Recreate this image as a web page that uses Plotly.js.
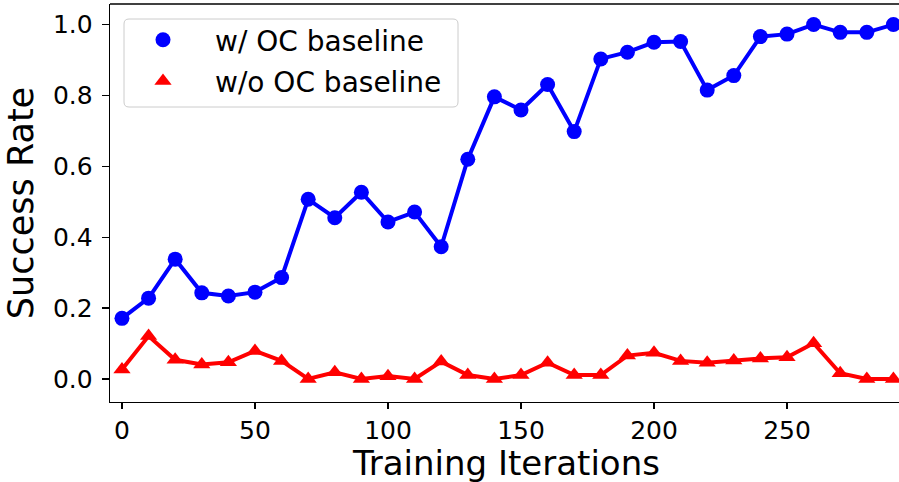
<!DOCTYPE html>
<html>
<head>
<meta charset="utf-8">
<script src="https://cdn.plot.ly/plotly-3.0.1.min.js"></script>
<style>html,body{margin:0;padding:0;background:#fff;}#chart{width:899px;height:482px;}</style>
</head>
<body>
<div id="chart"></div>
<script>
var iterations = [0,10,20,30,40,50,60,70,80,90,100,110,120,130,140,150,160,170,180,190,200,210,220,230,240,250,260,270,280,290];
var withOC = [0.171,0.228,0.338,0.243,0.234,0.245,0.286,0.507,0.455,0.527,0.443,0.471,0.373,0.620,0.796,0.759,0.831,0.698,0.903,0.922,0.950,0.952,0.815,0.856,0.966,0.973,1.0,0.978,0.978,1.0];
var withoutOC = [0.027,0.121,0.054,0.041,0.047,0.079,0.051,0.0,0.019,0.0,0.008,0.0,0.049,0.011,0.0,0.011,0.046,0.011,0.011,0.066,0.074,0.051,0.046,0.052,0.058,0.061,0.101,0.016,0.0,0.0];
var seriesNames = ["w/ OC baseline", "w/o OC baseline"];
var xTickVals = [0,50,100,150,200,250];
var yTickVals = [0,0.2,0.4,0.6,0.8,1.0];
var yTickText = ["0.0","0.2","0.4","0.6","0.8","1.0"];
var xTitle = "Training Iterations";
var yTitle = "Success Rate";

var FONT = "DejaVu Sans, sans-serif";
var W = 899, H = 482;
var mL = 110, mR = 0, mT = 4, mB = 80;
var pw = W - mL - mR, ph = H - mT - mB;
function px2x(p){ return (p - mL) / pw; }
function px2y(p){ return (H - mB - p) / ph; }

var bx0 = px2x(124), bx1 = px2x(458), by0 = px2y(107), by1 = px2y(19);
var rx = 5 / pw, ry = 5 / ph;
var legendPath = "M " + (bx0+rx) + "," + by1 +
  " L " + (bx1-rx) + "," + by1 + " Q " + bx1 + "," + by1 + " " + bx1 + "," + (by1-ry) +
  " L " + bx1 + "," + (by0+ry) + " Q " + bx1 + "," + by0 + " " + (bx1-rx) + "," + by0 +
  " L " + (bx0+rx) + "," + by0 + " Q " + bx0 + "," + by0 + " " + bx0 + "," + (by0+ry) +
  " L " + bx0 + "," + (by1-ry) + " Q " + bx0 + "," + by1 + " " + (bx0+rx) + "," + by1 + " Z";

var traces = [
  {x: iterations, y: withOC, mode: "lines+markers", showlegend: false,
   line: {color: "#0000ff", width: 4}, marker: {color: "#0000ff", size: 15, symbol: "circle"}},
  {x: iterations, y: withoutOC, mode: "lines+markers", showlegend: false,
   line: {color: "#ff0000", width: 4}, marker: {color: "#ff0000", size: 15, symbol: "triangle-up"}},
  {x: [null], y: [null], mode: "markers", name: seriesNames[0], legendgroup: "a",
   marker: {color: "#0000ff", size: 15, symbol: "circle"}},
  {x: [null], y: [null], mode: "markers", name: seriesNames[1], legendgroup: "b",
   marker: {color: "#ff0000", size: 15, symbol: "triangle-up"}}
];

var layout = {
  width: W, height: H,
  margin: {l: mL, r: mR, t: mT, b: mB, pad: 0},
  paper_bgcolor: "#ffffff", plot_bgcolor: "#ffffff",
  font: {family: FONT, color: "#000000", size: 25},
  xaxis: {
    range: [-4.5, 292.1], showgrid: false, zeroline: false,
    showline: true, linecolor: "#000", linewidth: 1.3, mirror: false,
    ticks: "outside", ticklen: 6, tickwidth: 1.3, tickcolor: "#000",
    tickvals: xTickVals, tickfont: {family: FONT, size: 25, color: "#000"},
    ticklabelstandoff: 0
  },
  yaxis: {
    range: [-0.065, 1.058], showgrid: false, zeroline: false,
    showline: true, linecolor: "#000", linewidth: 1.3, mirror: false,
    ticks: "outside", ticklen: 7, tickwidth: 1.3, tickcolor: "#000",
    tickvals: yTickVals, ticktext: yTickText, tickfont: {family: FONT, size: 25, color: "#000"},
    ticklabelstandoff: 4,
    title: {text: yTitle, font: {family: FONT, size: 35, color: "#000"}, standoff: 8}
  },
  annotations: [
    {text: xTitle, xref: "paper", yref: "paper", x: px2x(506), y: px2y(463.5),
     xanchor: "center", yanchor: "middle", showarrow: false, borderpad: 0,
     font: {family: FONT, size: 34, color: "#000"}}
  ],
  showlegend: true,
  legend: {
    x: px2x(111), y: px2y(15), xanchor: "left", yanchor: "top",
    bgcolor: "rgba(0,0,0,0)", borderwidth: 0,
    itemwidth: 94, traceorder: "grouped", tracegroupgap: 2,
    font: {family: FONT, size: 28, color: "#000"}
  },
  shapes: [
    {type: "path", xref: "paper", yref: "paper", path: legendPath,
     fillcolor: "rgba(255,255,255,0.8)", line: {color: "#cccccc", width: 1}, layer: "above"},
    {type: "line", xref: "paper", yref: "paper", x0: 0, x1: 1, y0: 1, y1: 1,
     line: {color: "#000", width: 1.3}}
  ]
};

Plotly.newPlot("chart", traces, layout, {staticPlot: true, displayModeBar: false});
</script>
</body>
</html>
